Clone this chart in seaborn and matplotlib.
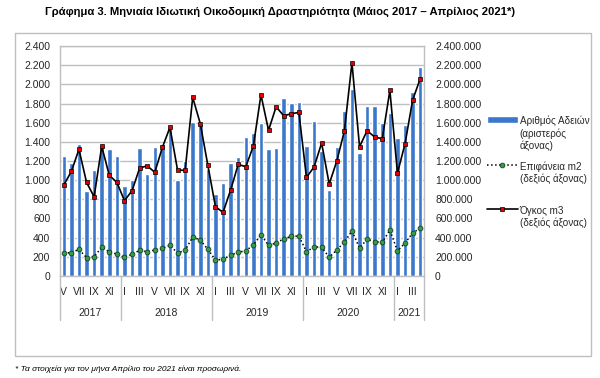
import numpy as np
import pandas as pd
import matplotlib
matplotlib.use("Agg")
import matplotlib.pyplot as plt
import matplotlib.transforms as mtransforms
from matplotlib.patches import Rectangle
from matplotlib.lines import Line2D
import seaborn as sns

# data: May 2017 - April 2021
years = [2017] * 8 + [2018] * 12 + [2019] * 12 + [2020] * 12 + [2021] * 4
months = [5, 6, 7, 8, 9, 10, 11, 12,
          1, 2, 3, 4, 5, 6, 7, 8, 9, 10, 11, 12,
          1, 2, 3, 4, 5, 6, 7, 8, 9, 10, 11, 12,
          1, 2, 3, 4, 5, 6, 7, 8, 9, 10, 11, 12,
          1, 2, 3, 4]
roman = {1: "I", 3: "III", 5: "V", 7: "VII", 9: "IX", 11: "XI"}

permits = [1255, 1175, 1374, 887, 1106, 1350, 1321, 1255,
           939, 1001, 1335, 1061, 1342, 1380, 1530, 1001, 1205, 1610, 1585, 1120,
           852, 973, 1175, 1238, 1450, 1488, 1600, 1325, 1332, 1853, 1801, 1811,
           1353, 1613, 1300, 900, 1342, 1724, 1950, 1283, 1770, 1770, 1596, 1700,
           1439, 1572, 1923, 2180]
area_m2 = [240000, 243000, 278000, 191000, 202000, 299000, 254000, 229000,
           195000, 226000, 268000, 254000, 271000, 289000, 320000, 240000, 268000, 407000, 375000, 278000,
           167000, 174000, 219000, 247000, 264000, 323000, 431000, 320000, 344000, 386000, 414000, 417000,
           254000, 302000, 302000, 195000, 271000, 355000, 469000, 292000, 383000, 358000, 351000, 480000,
           261000, 344000, 448000, 500000]
volume_m3 = [949000, 1092000, 1321000, 977000, 827000, 1353000, 1050000, 977000,
             786000, 890000, 1126000, 1150000, 1082000, 1342000, 1551000, 1106000, 1102000, 1864000, 1589000, 1154000,
             723000, 664000, 897000, 1165000, 1140000, 1356000, 1891000, 1520000, 1766000, 1672000, 1693000, 1707000,
             1029000, 1137000, 1387000, 960000, 1199000, 1512000, 2225000, 1349000, 1516000, 1450000, 1432000, 1937000,
             1074000, 1380000, 1836000, 2058000]

df = pd.DataFrame({"pos": np.arange(len(permits)), "permits": permits,
                   "area": area_m2, "volume": volume_m3})

sns.set_style("white")
plt.rcParams["font.family"] = ["Liberation Sans", "DejaVu Sans"]

grey = "#bfbfbf"
txt = "#262626"
blue = "#3b78cb"
area_style = dict(color="black", linestyle=":", lw=1.1, marker="o", markersize=3.5,
                  markerfacecolor="#2ea043", markeredgecolor="#10301a", markeredgewidth=0.5)
vol_style = dict(color="black", linestyle="-", lw=1.2, marker="s", markersize=3.5,
                 markerfacecolor="#e00000", markeredgecolor="black", markeredgewidth=0.5)

fig = plt.figure(figsize=(6, 3.78), dpi=100)
W, H = 600, 378
ax = fig.add_axes([60 / W, 1 - 276 / H, 364 / W, 230 / H])

sns.barplot(data=df, x="pos", y="permits", color=blue, saturation=1,
            width=0.6, ax=ax)
ax2 = ax.twinx()
sns.lineplot(data=df, x="pos", y="area", ax=ax2, **area_style)
sns.lineplot(data=df, x="pos", y="volume", ax=ax2, **vol_style)

ax.set_xlim(-0.5, len(permits) - 0.5)
ax.set_ylim(0, 2400)
ax2.set_ylim(0, 2400000)
ax.set_yticks(range(0, 2401, 200))
ax.set_yticklabels([f"{v:,}".replace(",", ".") for v in range(0, 2401, 200)])
ax2.set_yticks(range(0, 2400001, 200000))
ax2.set_yticklabels([f"{v:,}".replace(",", ".") for v in range(0, 2400001, 200000)])
ax.yaxis.grid(True, color=grey, lw=1)
ax.set_axisbelow(True)
ax.set_xlabel("")
ax.set_ylabel("")
ax2.set_xlabel("")
ax2.set_ylabel("")

for s in ax.spines.values():
    s.set_color(grey)
    s.set_linewidth(1)
for s in ax2.spines.values():
    s.set_visible(False)

ax.tick_params(axis="y", length=0, pad=7, labelsize=7.5, labelcolor=txt)
ax2.tick_params(axis="y", length=0, pad=8, labelsize=7.5, labelcolor=txt)

# month labels
lab_pos = [i for i, m in enumerate(months) if m in roman]
ax.set_xticks(lab_pos)
ax.set_xticklabels([roman[months[i]] for i in lab_pos])
ax.set_xticks(np.arange(-0.5, len(months), 1), minor=True)
ax.tick_params(axis="x", which="major", length=0, pad=8, labelsize=7.5, labelcolor=txt)
ax.tick_params(axis="x", which="minor", length=4, color=grey, width=1)

# year separators and labels
trans = mtransforms.blended_transform_factory(ax.transData, ax.transAxes)
bounds = [-0.5] + [i - 0.5 for i in range(1, len(years)) if years[i] != years[i - 1]] + [len(years) - 0.5]
for b in bounds:
    ax.plot([b, b], [0, -0.19], color=grey, lw=1, transform=trans, clip_on=False)
for a, b in zip(bounds[:-1], bounds[1:]):
    ax.text((a + b) / 2, -0.16, str(years[int(a + 0.5)]), transform=trans,
            ha="center", va="center", fontsize=7.5, color=txt)

# legend
handles = [Rectangle((0, 0), 1, 1, facecolor=blue),
           Line2D([], [], **area_style),
           Line2D([], [], **vol_style)]
labels = ["Αριθμός Αδειών\n(αριστερός\nάξονας)",
          "Επιφάνεια m2\n(δεξιός άξονας)\n",
          "Όγκος m3\n(δεξιός άξονας)"]
leg = fig.legend(handles, labels, loc="upper left", bbox_to_anchor=(487 / W, 1 - 116 / H),
                 frameon=False, fontsize=7.1, handlelength=3.1, handletextpad=0.2,
                 labelspacing=1.05, borderpad=0, borderaxespad=0, labelcolor=txt)
for col in leg._legend_handle_box.get_children():
    for item in col.get_children():
        item.align = "top"

# title, frame, footnote
fig.text(45 / W, 1 - 12 / H,
         "Γράφημα 3. Μηνιαία Ιδιωτική Οικοδομική Δραστηριότητα (Μάιος 2017 – Απρίλιος 2021*)",
         fontsize=8.1, fontweight="bold", ha="left", va="center", color="black")
fig.patches.append(Rectangle((15 / W, 1 - 356 / H), 576 / W, 323 / H, transform=fig.transFigure,
                             fill=False, edgecolor=grey, lw=1))
fig.text(15 / W, 1 - 369 / H, "* Τα στοιχεία για τον μήνα Απρίλιο του 2021 είναι προσωρινά.",
         fontsize=6, style="italic", ha="left", va="center", color="black")

fig.savefig("out.png", dpi=100)
